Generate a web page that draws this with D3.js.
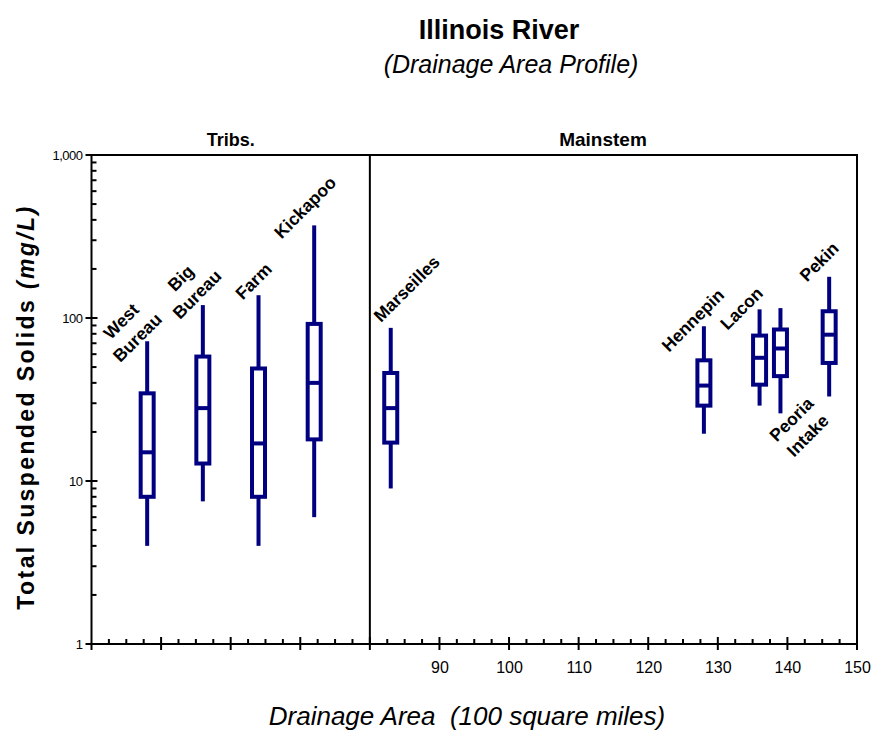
<!DOCTYPE html>
<html>
<head>
<meta charset="utf-8">
<script src="https://cdn.jsdelivr.net/npm/d3@7"></script>
<style>
  html, body { margin: 0; padding: 0; background: #fff; }
  svg { display: block; }
  text { font-family: "Liberation Sans", Arial, Helvetica, sans-serif; fill: #000; }
</style>
</head>
<body>
<svg id="chart" width="871" height="737"></svg>
<script>
// Sampling sites, in order along the drainage-area axis
const sites = ["West Bureau", "Big Bureau", "Farm", "Kickapoo", "Marseilles",
               "Hennepin", "Lacon", "Peoria Intake", "Pekin"];
// Position on the drainage-area axis (100 sq mi); tributaries share the left panel
const drainage = [48, 56, 64, 72, 83, 128, 136, 139, 146];
// Total suspended solids (mg/L) box statistics per site
const minVals = [4, 7.5, 4, 6, 9, 19.5, 29, 26, 33];
const q1Vals  = [8, 12.8, 8, 18, 17.2, 29, 39, 44, 53];
const medVals = [15, 28, 17, 40, 28, 38.5, 57, 65, 79];
const q3Vals  = [34.5, 58, 49, 92, 46, 55, 78, 85, 110];
const maxVals = [72, 120, 138, 370, 87, 89, 113, 115, 179];
// Panel headings and the axis value that splits them
const panels = ["Tribs.", "Mainstem"];
const panelSplit = 80;
// Axis ticks
const xTickLabels = [90, 100, 110, 120, 130, 140, 150];
const yTickLabels = [1, 10, 100, 1000];

// Label placement around each box (offset from the whisker end, label lines run at -45deg)
const labelLayout = [
  { end: "max", dx: -26, dy: -20 },
  { end: "max", dx: -22, dy: -27 },
  { end: "max", dx: -5,  dy: -14 },
  { end: "max", dx: -9,  dy: -18 },
  { end: "max", dx: 16,  dy: -39 },
  { end: "max", dx: -11, dy: -6 },
  { end: "max", dx: -18, dy: -1 },
  { end: "min", dx: 11,  dy: 6 },
  { end: "max", dx: -10, dy: -15 }
];

const boxes = sites.map((s, i) => ({
  site: s, x: drainage[i], min: minVals[i], q1: q1Vals[i], med: medVals[i],
  q3: q3Vals[i], max: maxVals[i], layout: labelLayout[i]
}));

const svg = d3.select("#chart");
const W = 871, H = 737;
const margin = { left: 91.5, right: 14, top: 155, bottom: 93 };
const navy = "#000080";

svg.append("rect").attr("width", W).attr("height", H).attr("fill", "#fff");

const x = d3.scaleLinear().domain([40, 150]).range([margin.left, W - margin.right]);
const y = d3.scaleLog().domain([1, 1000]).range([H - margin.bottom, margin.top]);

const x0 = x.range()[0], x1 = x.range()[1];
const y0 = y.range()[0], y1 = y.range()[1];

// Plot frame and panel divider
const frame = svg.append("g").attr("stroke", "#000").attr("stroke-width", 2).attr("fill", "none");
frame.append("rect").attr("x", x0).attr("y", y1).attr("width", x1 - x0).attr("height", y0 - y1);
frame.append("line").attr("x1", x(panelSplit)).attr("x2", x(panelSplit)).attr("y1", y1).attr("y2", y0);

// X axis ticks: majors every 10 cross the axis, minors every 2.5 point inward
const xTicks = svg.append("g").attr("stroke", "#000").attr("stroke-width", 2);
const xMajor = d3.range(50, 150, 10);
const xMinor = d3.range(40, 150, 2.5).filter(v => v % 10 !== 0);
xTicks.selectAll(".xmaj").data(xMajor).join("line")
  .attr("x1", d => x(d)).attr("x2", d => x(d)).attr("y1", y0 - 7).attr("y2", y0 + 6);
xTicks.selectAll(".xmin").data(xMinor).join("line")
  .attr("x1", d => x(d)).attr("x2", d => x(d)).attr("y1", y0 - 5).attr("y2", y0);
xTicks.append("line").attr("x1", x0).attr("x2", x0).attr("y1", y0).attr("y2", y0 + 6);
xTicks.append("line").attr("x1", x1).attr("x2", x1).attr("y1", y0).attr("y2", y0 + 6);

// X tick labels through a d3 axis
const xAxis = svg.append("g")
  .attr("transform", `translate(0,${y0})`)
  .call(d3.axisBottom(x).tickValues(xTickLabels).tickSize(0).tickPadding(18).tickFormat(d3.format("d")));
xAxis.select(".domain").remove();
xAxis.selectAll("text").attr("font-size", 16).attr("font-family", null).attr("fill", "#000");

// Y axis ticks: decade ticks cross the axis, intermediate ones point inward
const yTicks = svg.append("g").attr("stroke", "#000").attr("stroke-width", 2);
const yMinor = [];
[1, 10, 100].forEach(d => { for (let k = 2; k <= 9; k++) yMinor.push(d * k); });
yTicks.selectAll(".ymaj").data(yTickLabels).join("line")
  .attr("x1", x0 - 6).attr("x2", x0 + 6).attr("y1", d => y(d)).attr("y2", d => y(d));
yTicks.selectAll(".ymin").data(yMinor).join("line")
  .attr("x1", x0).attr("x2", x0 + 5).attr("y1", d => y(d)).attr("y2", d => y(d));

const yAxis = svg.append("g")
  .attr("transform", `translate(${x0},0)`)
  .call(d3.axisLeft(y).tickValues(yTickLabels).tickSize(0).tickPadding(9).tickFormat(d3.format(",")));
yAxis.select(".domain").remove();
yAxis.selectAll("text").attr("font-size", 13).attr("letter-spacing", -0.5)
  .attr("font-family", null).attr("fill", "#000");

// Panel headings
svg.append("text").attr("x", x((40 + panelSplit) / 2)).attr("y", 146)
  .attr("text-anchor", "middle").attr("font-weight", "bold").attr("font-size", 18).text(panels[0]);
svg.append("text").attr("x", x(113.5)).attr("y", 146)
  .attr("text-anchor", "middle").attr("font-weight", "bold").attr("font-size", 19).text(panels[1]);

// Box plots
const bw = 13;
const g = svg.append("g").attr("stroke", navy).attr("stroke-width", 4).attr("fill", "none");
const site = g.selectAll(".site").data(boxes).join("g");
site.append("line").attr("x1", d => x(d.x)).attr("x2", d => x(d.x))
  .attr("y1", d => y(d.max)).attr("y2", d => y(d.q3));
site.append("line").attr("x1", d => x(d.x)).attr("x2", d => x(d.x))
  .attr("y1", d => y(d.q1)).attr("y2", d => y(d.min));
site.append("rect").attr("x", d => x(d.x) - bw / 2).attr("width", bw)
  .attr("y", d => y(d.q3)).attr("height", d => y(d.q1) - y(d.q3)).attr("fill", "#fff");
site.append("line").attr("x1", d => x(d.x) - bw / 2).attr("x2", d => x(d.x) + bw / 2)
  .attr("y1", d => y(d.med)).attr("y2", d => y(d.med));

// Site names, rotated 45 degrees next to the whisker ends
const lineStep = 23 / Math.SQRT2;
const labels = svg.append("g");
boxes.forEach(d => {
  const L = d.layout;
  const ax = x(d.x) + L.dx;
  const ay = y(L.end === "max" ? d.max : d.min) + L.dy;
  d.site.split(" ").forEach((word, j) => {
    labels.append("text")
      .attr("transform", `translate(${ax + j * lineStep},${ay + j * lineStep}) rotate(-45)`)
      .attr("text-anchor", "middle").attr("dominant-baseline", "central")
      .attr("font-weight", "bold").attr("font-size", 17.5).text(word);
  });
});

// Titles
svg.append("text").attr("x", 499).attr("y", 39).attr("text-anchor", "middle")
  .attr("font-weight", "bold").attr("font-size", 27).text("Illinois River");
svg.append("text").attr("x", 511).attr("y", 73).attr("text-anchor", "middle")
  .attr("font-style", "italic").attr("font-size", 25).text("(Drainage Area Profile)");

// Axis titles
svg.append("text").attr("x", 467).attr("y", 725).attr("text-anchor", "middle")
  .attr("font-style", "italic").attr("font-size", 26).style("white-space", "pre")
  .text("Drainage Area  (100 square miles)");
const yt = svg.append("text").attr("transform", "translate(34,407) rotate(-90)")
  .attr("text-anchor", "middle").attr("font-size", 23).attr("font-weight", "bold")
  .attr("letter-spacing", 2.4);
yt.append("tspan").text("Total Suspended Solids ");
yt.append("tspan").attr("font-style", "italic").text("(mg/L)");
</script>
</body>
</html>
